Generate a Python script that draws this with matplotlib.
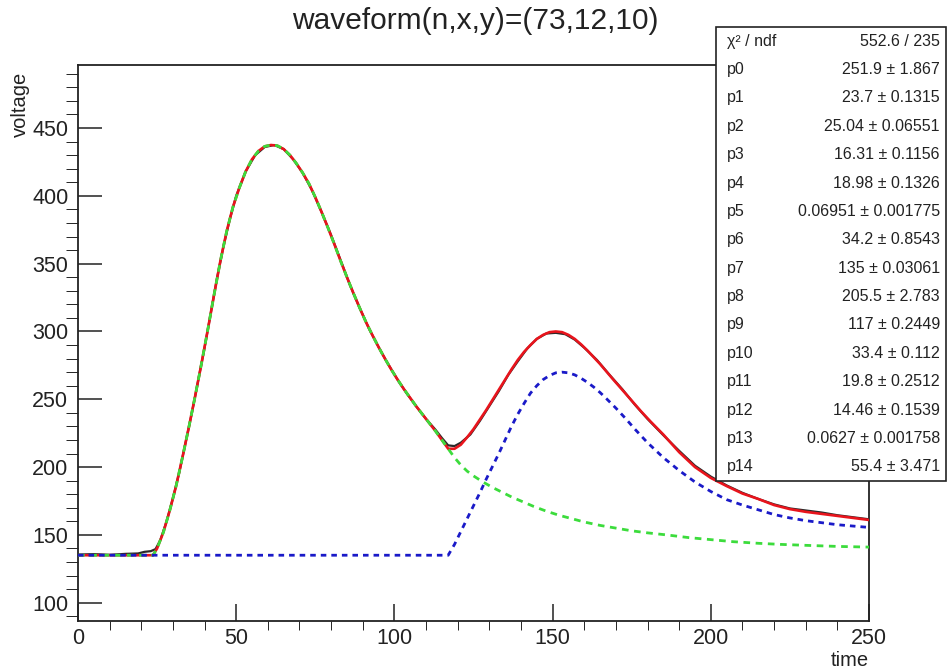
import matplotlib
matplotlib.use("Agg")
import matplotlib.pyplot as plt
import numpy as np
from matplotlib.patches import Rectangle
from matplotlib.ticker import MultipleLocator

plt.rcParams['font.family'] = ['Liberation Sans', 'DejaVu Sans']

# ---------------- data ----------------
title = "waveform(n,x,y)=(73,12,10)"

# first pulse (shared by the total fit and the green component up to t=117)
pulse1_t = [0, 10, 20, 23.7, 25, 27, 29, 31, 33, 35, 37, 39, 41, 43, 45, 47, 49, 51, 53, 55,
            57, 59, 61, 63, 65, 67, 69, 71, 73, 75, 77, 79, 81, 83, 85, 87, 89, 91, 93, 95,
            97, 99, 101, 103, 105, 107, 109, 111, 113, 115, 117]
pulse1_v = [135, 135, 135, 135, 140, 152, 168, 186, 207, 229, 252, 276, 301, 327, 352, 374, 392, 406, 418, 427,
            433, 436.5, 437.5, 437, 434.5, 430, 424, 417, 409, 399, 388, 376.5, 364.5, 352, 340, 328.5, 317.5, 307,
            297.5, 288.5, 280, 272, 264.5, 257.5, 251, 244.5, 238.5, 232.5, 226.5, 220, 213.5]

# total fit (red) after t=117
fit_tail_t = [119, 121, 123, 125, 127, 129, 131, 133, 135, 137, 139, 141, 143, 145, 147, 149, 151, 153,
              155, 157, 159, 161, 163, 165, 167, 169, 172, 175, 178, 181, 185, 190, 195, 200, 205, 210,
              215, 220, 225, 230, 235, 240, 245, 250]
fit_tail_v = [213.5, 216.5, 222, 228, 235, 242, 249.5, 257, 264.5, 272, 279, 285, 290, 294.5, 297.5, 299.5, 300, 299.5,
              297.5, 294.5, 290.5, 286, 281, 276, 270.5, 265, 257, 249, 241, 233.5, 224, 211, 200, 192, 186, 180.5,
              176.5, 172, 169, 167, 165.5, 164, 162.5, 161]

# first component (green) after t=117
comp1_tail_t = [119, 121, 123, 125, 128, 131, 134, 137, 140, 144, 148, 152, 156, 160, 165, 170, 175, 180,
                186, 193, 200, 207, 215, 222, 230, 240, 250]
comp1_tail_v = [207, 201.5, 197, 193.5, 189, 185, 181.5, 178, 175, 171, 167.5, 164.5, 162, 159.5, 157, 155, 153, 151.5,
                150, 148, 146.5, 145, 143.8, 143, 142.3, 141.5, 141]

# second component (blue)
comp2_t = [0, 117, 119, 121, 123, 125, 127, 129, 131, 133, 135, 137, 139, 141, 143, 145, 147, 149, 151, 153,
           155, 157, 159, 161, 163, 165, 167, 170, 173, 176, 180, 185, 190, 195, 200, 205, 210, 215, 220,
           225, 230, 235, 240, 245, 250]
comp2_v = [135, 135, 143, 152.5, 162, 171.5, 181, 191, 200.5, 210, 220, 230, 239, 247, 254.5, 260, 264.5, 267.5, 269.5, 270,
           269.5, 268, 265.5, 262.5, 259, 255, 250.5, 243.5, 236, 228, 218, 207, 197.5, 189, 182, 176, 172, 168.5, 165,
           162.5, 160.5, 159, 157.5, 156.5, 155.5]

# measured waveform (dark line)
wave_t = [0, 5, 10, 15, 19, 21, 23, 24.5, 26, 28, 30, 32, 34, 36, 38, 40, 42, 44, 46, 48, 50, 53, 56, 59, 62,
          65, 68, 71, 74, 77, 80, 83, 86, 89, 92, 95, 98, 101, 104, 107, 110, 113, 115, 117, 119, 121, 124,
          127, 130, 133, 136, 139, 142, 145, 148, 151, 154, 157, 160, 164, 168, 172, 176, 180, 185, 190, 195,
          200, 205, 210, 215, 220, 225, 230, 235, 240, 245, 250]
wave_v = [135.5, 135.8, 135.3, 136, 136.3, 137.5, 138, 139.5, 146, 160, 177, 196, 218, 240, 264, 288, 314, 340, 363, 383,
          400, 418, 430, 436, 437.5, 434.5, 427, 417, 404, 388, 371, 352.5, 334, 317.5, 302, 288.5, 276, 264.5, 254, 244.5,
          235.5, 227.5, 221.5, 216, 215.5, 218, 224, 234, 245, 256, 268, 278, 287.5, 294.5, 298.5, 299, 298, 294, 288,
          279, 268, 257.5, 246, 235.5, 223.5, 212, 201, 193, 186.5, 181, 176.5, 172.5, 169.5, 168, 166.5, 164.5,
          163, 161.5]

stat_names = ["χ² / ndf", "p0", "p1", "p2", "p3", "p4", "p5", "p6", "p7", "p8", "p9", "p10",
              "p11", "p12", "p13", "p14"]
stat_values = ["552.6 / 235", "251.9 ± 1.867", "23.7 ± 0.1315", "25.04 ± 0.06551", "16.31 ± 0.1156",
               "18.98 ± 0.1326", "0.06951 ± 0.001775", "34.2 ± 0.8543", "135 ± 0.03061", "205.5 ± 2.783",
               "117 ± 0.2449", "33.4 ± 0.112", "19.8 ± 0.2512", "14.46 ± 0.1539", "0.0627 ± 0.001758",
               "55.4 ± 3.471"]

x_label = "time"
y_label = "voltage"
x_range = (0, 250)
y_range = (86.5, 496.5)

# ---------------- figure ----------------
W, H = 950, 671
fig = plt.figure(figsize=(W / 100, H / 100), dpi=100)
fig.patch.set_facecolor("white")

L, R, T, B = 78, 869, 65, 621
ax = fig.add_axes([L / W, 1 - B / H, (R - L) / W, (B - T) / H])

fit_t = pulse1_t + fit_tail_t
fit_v = pulse1_v + fit_tail_v
comp1_t = pulse1_t + comp1_tail_t
comp1_v = pulse1_v + comp1_tail_v

ax.plot(wave_t, wave_v, color="#2a2a2a", lw=1.6, zorder=2)
ax.plot(fit_t, fit_v, color="#e8141c", lw=1.9, zorder=3)
ax.plot(comp1_t, comp1_v, color="#3cdc3c", lw=2.0, dashes=(2.4, 2.0), zorder=4)
ax.plot(comp2_t, comp2_v, color="#1a1ac8", lw=2.0, dashes=(2.0, 1.8), zorder=5)

ax.set_xlim(*x_range)
ax.set_ylim(*y_range)

ax.xaxis.set_major_locator(MultipleLocator(50))
ax.xaxis.set_minor_locator(MultipleLocator(10))
ax.yaxis.set_major_locator(MultipleLocator(50))
ax.yaxis.set_minor_locator(MultipleLocator(10))

ax.tick_params(direction="in", top=False, right=False, colors="#222222", labelsize=15.5,
               width=1.1)
ax.tick_params(axis="x", which="major", length=12.5, pad=5)
ax.tick_params(axis="x", which="minor", length=6.5)
ax.tick_params(axis="y", which="major", length=17, pad=7)
ax.tick_params(axis="y", which="minor", length=8.5)
for s in ax.spines.values():
    s.set_linewidth(1.3)
    s.set_color("#222222")

# axis titles, ROOT style
fig.text(R / W, 1 - 660 / H, x_label, ha="right", va="center", fontsize=14.5, color="#222222")
fig.text(20 / W, 1 - 72 / H, y_label, ha="center", va="top", rotation=90, fontsize=14.5, color="#222222")

# title
fig.text(475 / W, 1 - 21 / H, title, ha="center", va="center", fontsize=21.5, color="#222222")

# stats box
bx0, by0, bx1, by1 = 716, 27, 946, 481
box = Rectangle((bx0 / W, 1 - by1 / H), (bx1 - bx0) / W, (by1 - by0) / H,
                transform=fig.transFigure, facecolor="white", edgecolor="#222222", lw=1.2, zorder=10)
fig.add_artist(box)
row_h = (by1 - by0) / len(stat_names)
for i, (n, v) in enumerate(zip(stat_names, stat_values)):
    yc = by0 + row_h * (i + 0.5)
    fig.text(727 / W, 1 - yc / H, n, ha="left", va="center", fontsize=11.5, color="#222222", zorder=11)
    fig.text(940 / W, 1 - yc / H, v, ha="right", va="center", fontsize=11.5, color="#222222", zorder=11)

fig.savefig("out.png", dpi=100)
